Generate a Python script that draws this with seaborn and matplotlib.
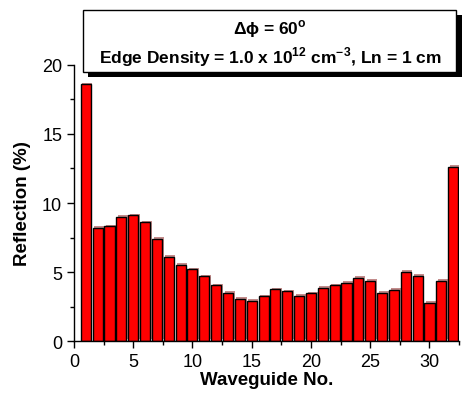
import numpy as np
import pandas as pd
import matplotlib
matplotlib.use("Agg")
import matplotlib.pyplot as plt
import matplotlib.patheffects as pe
from matplotlib.ticker import MultipleLocator
import seaborn as sns

sns.set_theme(style="ticks")
plt.rcParams['font.family'] = ['Liberation Sans', 'DejaVu Sans']
plt.rcParams['mathtext.fontset'] = 'custom'
plt.rcParams['mathtext.rm'] = 'Liberation Sans'
plt.rcParams['mathtext.bf'] = 'Liberation Sans:bold'
plt.rcParams['text.color'] = 'black'
plt.rcParams['axes.labelcolor'] = 'black'

# Data
waveguide = list(range(1, 33))
reflection = [18.6, 8.2, 8.3, 9.0, 9.1, 8.6, 7.4, 6.1, 5.5, 5.2, 4.7, 4.05,
              3.5, 3.05, 2.9, 3.25, 3.75, 3.6, 3.3, 3.45, 3.85, 4.05, 4.2, 4.6,
              4.35, 3.5, 3.7, 5.0, 4.75, 2.75, 4.35, 12.6]

title_lines = [r"$\mathbf{\Delta\phi}$ = 60$^{\mathbf{o}}$",
               r"Edge Density = 1.0 x 10$^{\mathbf{12}}$ cm$^{\mathbf{-3}}$, Ln = 1 cm"]

df = pd.DataFrame({"Waveguide": waveguide, "Reflection": reflection})

fig = plt.figure(figsize=(4.68, 4.02), dpi=100)
ax = fig.add_axes([0.158, 0.149, 0.823, 0.687])

sns.barplot(data=df, x="Waveguide", y="Reflection", native_scale=True,
            color="#ff0000", saturation=1, width=0.85, edgecolor="black",
            linewidth=1.0, ax=ax)

# Origin-style drop shadow on the bars
for bar in ax.patches:
    bar.set_path_effects([pe.SimplePatchShadow(offset=(1.2, 1.2), shadow_rgbFace="#7a0000", alpha=0.45),
                          pe.Normal()])

ax.set_xlim(0, 32.5)
ax.set_ylim(0, 20)
ax.xaxis.set_major_locator(MultipleLocator(5))
ax.xaxis.set_minor_locator(MultipleLocator(2.5))
ax.yaxis.set_major_locator(MultipleLocator(5))
ax.yaxis.set_minor_locator(MultipleLocator(2.5))
ax.tick_params(which="major", direction="out", length=5, width=1, labelsize=13, colors="black")
ax.tick_params(which="minor", direction="out", length=3, width=1, colors="black")
sns.despine(ax=ax)
for s in ["left", "bottom"]:
    ax.spines[s].set_color("black")
    ax.spines[s].set_linewidth(1)

ax.set_xlabel("Waveguide No.", fontsize=13.5, fontweight="bold", labelpad=1)
ax.set_ylabel("Reflection (%)", fontsize=13.5, fontweight="bold", labelpad=8)

# Title box with shadow
fig.patches.append(plt.Rectangle((88 / 468, 1 - 78 / 402), 374 / 468, 62 / 402,
                                 transform=fig.transFigure, facecolor="black",
                                 edgecolor="none", zorder=5))
fig.patches.append(plt.Rectangle((83 / 468, 1 - 73 / 402), 373 / 468, 62 / 402,
                                 transform=fig.transFigure, facecolor="white",
                                 edgecolor="black", linewidth=1.0, zorder=6))
fig.text(270 / 468, 1 - 29 / 402, title_lines[0], ha="center", va="center",
         fontsize=12.5, fontweight="bold", zorder=7)
fig.text(270 / 468, 1 - 57 / 402, title_lines[1], ha="center", va="center",
         fontsize=12.5, fontweight="bold", zorder=7)

fig.savefig("out.png", dpi=100)
